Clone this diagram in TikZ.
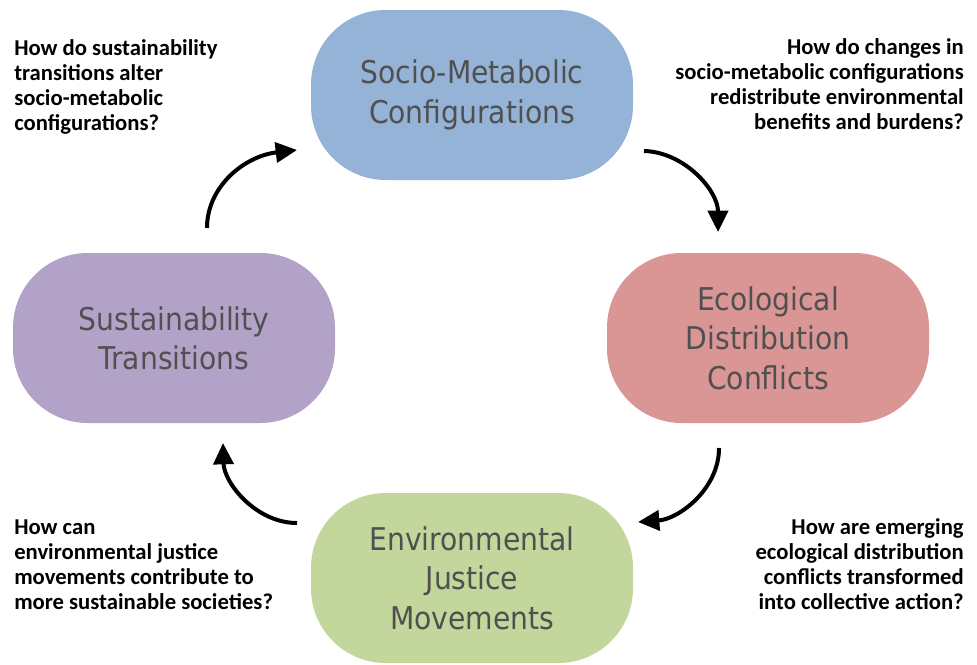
\documentclass[tikz,border=0pt]{standalone}
\usepackage{fontspec}
\setmainfont{Carlito}
\newfontfamily\nodefont{DejaVu Sans Condensed}
\usetikzlibrary{arrows.meta}
\definecolor{cblue}{HTML}{95B3D7}
\definecolor{cred}{HTML}{D99694}
\definecolor{cgreen}{HTML}{C3D69B}
\definecolor{cpurple}{HTML}{B3A2C7}
\definecolor{ntext}{HTML}{505050}
\begin{document}
\begin{tikzpicture}[x=0.75pt,y=-0.75pt,
  phase/.style={rectangle, rounded corners=56pt, minimum width=241.5pt,
    minimum height=127.5pt, inner sep=0pt, text=ntext, align=center,
    font=\nodefont\fontsize{23.5pt}{29.5pt}\selectfont},
  question/.style={inner sep=0pt, font=\bfseries\fontsize{17pt}{18.75pt}\selectfont},
  cyc/.style={line width=3pt, -{Triangle[length=16pt,width=15pt]}}]
\useasboundingbox (0,0) rectangle (977,664);
\node[phase, fill=cblue] (smc) at (472,95) {Socio-Metabolic\\Configurations};
\node[phase, fill=cred] (edc) at (768,338) {Ecological\\Distribution\\Conflicts};
\node[phase, fill=cgreen] (ejm) at (472,578) {Environmental\\Justice\\Movements};
\node[phase, fill=cpurple] (st) at (174,338) {Sustainability\\Transitions};

\node[question, anchor=base west, align=left] (q1) at (14,130)
  {How do sustainability\\transitions alter\\socio-metabolic\\configurations?};
\node[question, anchor=base east, align=right] (q2) at (964,129)
  {How do changes in\\socio-metabolic configurations\\redistribute environmental\\benefits and burdens?};
\node[question, anchor=base east, align=right] (q3) at (964,609)
  {How are emerging\\ecological distribution\\conflicts transformed\\into collective action?};
\node[question, anchor=base west, align=left] (q4) at (14,609)
  {How can\\environmental justice\\movements contribute to\\more sustainable societies?};

\coordinate (a1s) at (207,228); \coordinate (a1e) at (297,150);
\coordinate (a2s) at (644,151); \coordinate (a2e) at (718,232);
\coordinate (a3s) at (719,448); \coordinate (a3e) at (638,522);
\coordinate (a4s) at (297,523); \coordinate (a4e) at (223,443);
\draw[cyc] (a1s) .. controls (207,186) and (245,156) .. (a1e);
\draw[cyc] (a2s) .. controls (684,152) and (718,190) .. (a2e);
\draw[cyc] (a3s) .. controls (719,489) and (679,519) .. (a3e);
\draw[cyc] (a4s) .. controls (256,523) and (224,483) .. (a4e);
\end{tikzpicture}
\end{document}
